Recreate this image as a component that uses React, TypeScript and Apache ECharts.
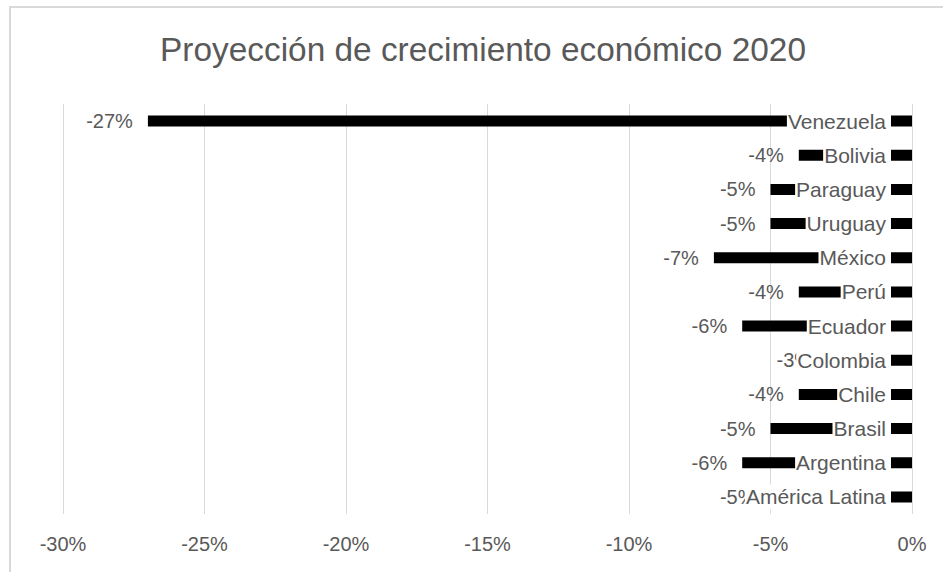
import React, { useEffect, useRef } from "react";
import * as echarts from "echarts";

const titleText = "Proyección de crecimiento económico 2020";
const categories = [
  "América Latina",
  "Argentina",
  "Brasil",
  "Chile",
  "Colombia",
  "Ecuador",
  "Perú",
  "México",
  "Uruguay",
  "Paraguay",
  "Bolivia",
  "Venezuela",
];
const growth = [-5, -6, -5, -4, -3, -6, -4, -7, -5, -5, -4, -27];
const axisMin = -30;
const axisMax = 0;
const axisStep = 5;

const FONT = "'Liberation Sans', Arial, sans-serif";
const GRAY = "#595959";

export default function App() {
  const ref = useRef<HTMLDivElement>(null);
  useEffect(() => {
    if (!ref.current) return;
    const chart = echarts.init(ref.current, undefined, { renderer: "svg" });
    chart.setOption({
      animation: false,
      backgroundColor: "#ffffff",
      graphic: [
        {
          type: "rect",
          shape: { x: 10, y: 7, width: 980, height: 620 },
          style: { fill: "none", stroke: "#d9d9d9", lineWidth: 2 },
          silent: true,
        },
        {
          type: "text",
          x: 483,
          y: 49,
          style: {
            text: titleText,
            fill: GRAY,
            font: `33.4px ${FONT}`,
            textAlign: "center",
            textVerticalAlign: "middle",
          },
        },
      ],
      grid: { left: 63, right: 31, top: 104, height: 410, containLabel: false },
      xAxis: {
        type: "value",
        min: axisMin,
        max: axisMax,
        interval: axisStep,
        axisLine: { show: false },
        axisTick: { show: false },
        splitLine: { show: true, lineStyle: { color: "#d9d9d9", width: 1 } },
        axisLabel: {
          formatter: (v: number) => `${v}%`,
          color: GRAY,
          fontFamily: FONT,
          fontSize: 20,
          margin: 20,
        },
      },
      yAxis: {
        type: "category",
        data: categories,
        position: "right",
        z: 6,
        axisLine: { show: false },
        axisTick: { show: false },
        splitLine: { show: false },
        axisLabel: {
          inside: true,
          margin: 21,
          color: GRAY,
          fontFamily: FONT,
          fontSize: 21,
          backgroundColor: "#ffffff",
          padding: [2, 5, 2, 1],
        },
      },
      series: [
        {
          type: "bar",
          data: growth,
          barWidth: 11,
          itemStyle: { color: "#000000" },
          label: {
            show: true,
            position: "left",
            distance: 15,
            color: GRAY,
            fontFamily: FONT,
            fontSize: 20,
            formatter: (p: any) => `${Math.round(p.value)}%`,
          },
        },
      ],
    });
    return () => chart.dispose();
  }, []);
  return (
    <div
      ref={ref}
      style={{ position: "fixed", left: 0, top: 0, width: 943, height: 572 }}
    />
  );
}
